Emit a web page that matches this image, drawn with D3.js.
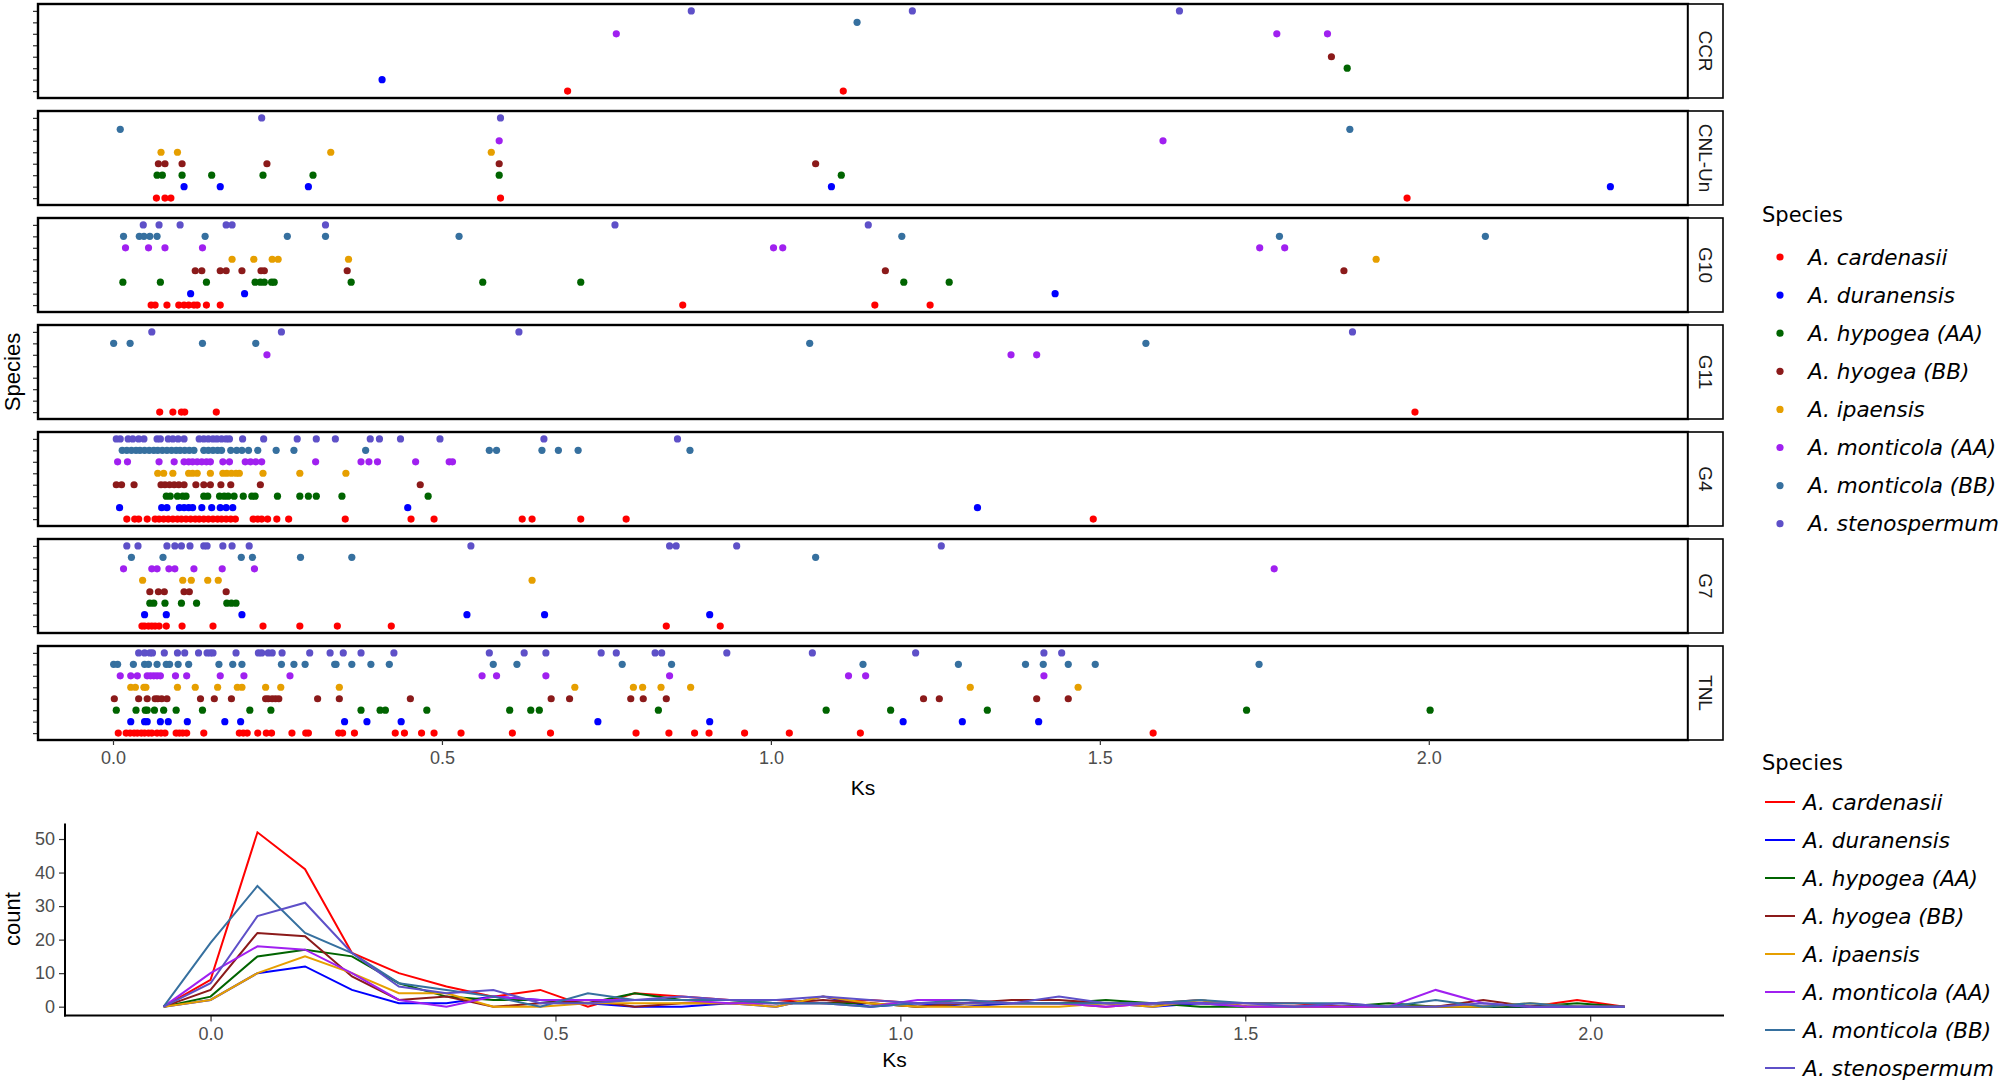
<!DOCTYPE html>
<html><head><meta charset="utf-8">
<script src="https://cdn.jsdelivr.net/npm/d3@7"></script>
<style>body{margin:0;background:#fff}svg{display:block}</style>
</head><body>
<svg id="c" width="2006" height="1082"></svg>
<script>
// ---------- DATA ----------
const speciesKeys = ["card","dur","hypAA","hyoBB","ipa","monAA","monBB","sten"];
const speciesNames = ["A. cardenasii","A. duranensis","A. hypogea (AA)","A. hyogea (BB)","A. ipaensis","A. monticola (AA)","A. monticola (BB)","A. stenospermum"];
const speciesColors = ["#ff0000","#0000ff","#006400","#8b1a1a","#e69f00","#a020f0","#36709f","#5e50c8"];
const panelNames = ["CCR","CNL-Un","G10","G11","G4","G7","TNL"];
const xTicks = [0, 0.5, 1.0, 1.5, 2.0];
const countTicks = [0, 10, 20, 30, 40, 50];

const ccr = {card:[0.691,1.110], dur:[0.409], hypAA:[1.876], hyoBB:[1.852], ipa:[],
  monAA:[0.765,1.769,1.846], monBB:[1.131], sten:[0.879,1.215,1.621]};
const cnlUn = {card:[0.066,0.079,0.088,0.589,1.967], dur:[0.108,0.163,0.297,1.092,2.276],
  hypAA:[0.067,0.075,0.105,0.150,0.228,0.304,0.587,1.107], hyoBB:[0.069,0.079,0.105,0.234,0.587,1.068],
  ipa:[0.073,0.098,0.331,0.575], monAA:[0.587,1.596], monBB:[0.011,1.880], sten:[0.226,0.589]};
const g10 = {card:[0.058,0.064,0.082,0.100,0.108,0.115,0.123,0.128,0.142,0.163,0.866,1.158,1.242],
  dur:[0.118,0.200,1.432],
  hypAA:[0.015,0.072,0.142,0.216,0.224,0.230,0.241,0.245,0.362,0.562,0.711,1.202,1.271],
  hyoBB:[0.125,0.135,0.163,0.172,0.196,0.225,0.230,0.356,1.174,1.871],
  ipa:[0.181,0.214,0.242,0.251,0.358,1.920],
  monAA:[0.019,0.054,0.079,0.136,1.004,1.018,1.743,1.781],
  monBB:[0.016,0.040,0.047,0.056,0.067,0.140,0.265,0.323,0.526,1.199,1.773,2.086],
  sten:[0.046,0.070,0.102,0.172,0.181,0.323,0.763,1.148]};
const g11 = {card:[0.071,0.091,0.104,0.109,0.157,1.979], dur:[], hypAA:[], hyoBB:[], ipa:[],
  monAA:[0.234,1.365,1.404], monBB:[0.001,0.026,0.136,0.217,1.059,1.570], sten:[0.059,0.256,0.617,1.884]};
const g4 = {
  card:[0.021,0.033,0.039,0.052,0.064,0.070,0.077,0.084,0.091,0.098,0.104,0.111,0.118,0.125,0.131,0.138,0.145,0.152,0.159,0.165,0.172,0.179,0.186,0.213,0.220,0.226,0.235,0.249,0.267,0.353,0.453,0.488,0.622,0.637,0.711,0.780,1.490],
  dur:[0.010,0.074,0.082,0.101,0.108,0.115,0.121,0.135,0.150,0.163,0.172,0.182,0.448,1.314],
  hypAA:[0.081,0.087,0.098,0.106,0.111,0.138,0.144,0.162,0.169,0.175,0.184,0.198,0.211,0.216,0.250,0.284,0.297,0.309,0.348,0.479],
  hyoBB:[0.005,0.013,0.032,0.073,0.079,0.086,0.093,0.100,0.108,0.126,0.138,0.148,0.164,0.179,0.224,0.467],
  ipa:[0.068,0.077,0.091,0.115,0.121,0.128,0.148,0.167,0.173,0.180,0.187,0.192,0.228,0.284,0.354],
  monAA:[0.007,0.022,0.070,0.093,0.108,0.115,0.121,0.128,0.135,0.142,0.148,0.167,0.177,0.201,0.209,0.217,0.226,0.308,0.377,0.389,0.402,0.460,0.511,0.516],
  monBB:[0.014,0.021,0.028,0.035,0.041,0.048,0.055,0.062,0.068,0.075,0.082,0.089,0.096,0.102,0.109,0.116,0.123,0.138,0.145,0.152,0.159,0.165,0.179,0.188,0.196,0.206,0.220,0.248,0.275,0.384,0.572,0.583,0.652,0.677,0.707,0.877],
  sten:[0.005,0.011,0.023,0.030,0.039,0.047,0.067,0.072,0.084,0.091,0.099,0.108,0.131,0.138,0.145,0.152,0.158,0.165,0.172,0.177,0.197,0.229,0.280,0.309,0.338,0.391,0.405,0.437,0.497,0.655,0.858]};
const g7 = {
  card:[0.044,0.048,0.054,0.059,0.064,0.070,0.081,0.105,0.152,0.228,0.284,0.341,0.423,0.841,0.923],
  dur:[0.048,0.081,0.196,0.538,0.656,0.907],
  hypAA:[0.056,0.062,0.079,0.104,0.127,0.173,0.180,0.187],
  hyoBB:[0.056,0.069,0.078,0.108,0.116,0.172],
  ipa:[0.045,0.106,0.119,0.144,0.160,0.637],
  monAA:[0.016,0.059,0.067,0.085,0.094,0.123,0.166,0.215,1.765],
  monBB:[0.028,0.076,0.195,0.212,0.285,0.363,1.068],
  sten:[0.021,0.038,0.082,0.094,0.104,0.117,0.138,0.143,0.167,0.181,0.207,0.544,0.846,0.856,0.948,1.259]};
const tnl = {
  card:[0.008,0.020,0.026,0.032,0.037,0.043,0.048,0.054,0.059,0.067,0.073,0.079,0.096,0.101,0.106,0.112,0.138,0.192,0.198,0.204,0.220,0.233,0.241,0.272,0.293,0.297,0.343,0.349,0.367,0.429,0.443,0.469,0.488,0.529,0.607,0.665,0.795,0.845,0.884,0.906,0.960,1.028,1.136,1.581],
  dur:[0.027,0.048,0.052,0.072,0.084,0.113,0.170,0.194,0.352,0.386,0.438,0.737,0.907,1.201,1.291,1.407],
  hypAA:[0.005,0.035,0.049,0.052,0.063,0.077,0.096,0.136,0.208,0.240,0.377,0.406,0.414,0.477,0.603,0.635,0.648,0.829,1.084,1.182,1.329,1.723,2.002],
  hyoBB:[0.002,0.039,0.052,0.064,0.068,0.074,0.082,0.133,0.154,0.180,0.232,0.236,0.242,0.247,0.252,0.311,0.344,0.452,0.666,0.694,0.787,0.806,0.841,1.232,1.256,1.404,1.452],
  ipa:[0.027,0.034,0.047,0.050,0.098,0.125,0.159,0.189,0.196,0.232,0.255,0.344,0.702,0.791,0.805,0.833,0.878,1.303,1.467],
  monAA:[0.011,0.027,0.037,0.052,0.057,0.062,0.067,0.072,0.095,0.112,0.163,0.199,0.269,0.561,0.583,0.658,0.846,1.118,1.144,1.415],
  monBB:[0.001,0.007,0.031,0.048,0.054,0.067,0.081,0.086,0.099,0.115,0.161,0.182,0.196,0.256,0.275,0.292,0.337,0.339,0.363,0.392,0.420,0.578,0.614,0.774,0.849,1.140,1.285,1.387,1.414,1.452,1.493,1.742],
  sten:[0.039,0.048,0.056,0.060,0.078,0.098,0.109,0.130,0.143,0.148,0.152,0.187,0.221,0.226,0.236,0.242,0.257,0.299,0.330,0.350,0.377,0.427,0.572,0.625,0.658,0.742,0.765,0.824,0.834,0.933,1.063,1.220,1.415,1.442]};
const panelData = [ccr, cnlUn, g10, g11, g4, g7, tnl];

// frequency polygon (bottom)
const ksBins = [-0.068,0.000,0.068,0.137,0.205,0.273,0.342,0.410,0.478,0.547,0.615,0.683,0.752,0.820,0.888,0.956,1.025,1.093,1.161,1.230,1.298,1.366,1.435,1.503,1.571,1.640,1.708,1.776,1.845,1.913,1.981,2.050];
const countCard  = [0,8,52,41,16,10,6,3,5,0,4,3,2,2,1,2,1,1,1,1,0,1,1,1,1,0,0,0,0,0,2,0];
const countDur   = [0,2,10,12,5,1,1,3,2,1,0,0,1,0,3,0,1,0,1,1,1,0,1,0,0,0,0,0,0,0,0,0];
const countHypAA = [0,3,15,17,15,7,3,2,2,1,4,2,2,1,1,1,0,1,1,1,2,1,0,0,0,0,1,0,0,0,1,0];
const countHyoBB = [0,5,22,21,9,2,3,0,1,2,0,1,1,1,2,1,0,1,2,2,1,1,2,0,0,0,0,0,2,0,0,0];
const countIpa   = [0,2,10,15,10,4,4,0,0,1,1,1,1,0,3,1,0,0,0,0,1,0,2,0,0,0,0,0,0,1,0,0];
const countMonAA = [0,10,18,17,10,2,0,3,2,2,2,2,1,1,1,0,2,2,1,1,0,1,1,0,0,0,0,5,1,0,0,0];
const countMonBB = [0,19,36,22,16,7,5,3,0,4,2,2,2,1,1,0,1,2,1,1,1,1,2,1,1,1,0,2,0,1,0,0];
const countSten  = [0,7,27,31,16,6,4,5,1,1,2,3,2,2,3,2,1,1,1,3,1,1,1,1,0,1,0,0,1,0,0,0];
const countSeries = [countCard,countDur,countHypAA,countHyoBB,countIpa,countMonAA,countMonBB,countSten];

// ---------- DRAW ----------
const svg = d3.select("#c");
svg.append("rect").attr("width",2006).attr("height",1082).attr("fill","#fff");
const tickFont = "'Liberation Sans', Arial, sans-serif";
const legFont = "'DejaVu Sans', Verdana, sans-serif";

const pL = 38, pR = 1688, stripW = 35, pTop0 = 4, pStep = 107, pH = 94;
const x = d3.scaleLinear().domain([-0.114, 2.394]).range([pL, pR]);

panelNames.forEach((name, i) => {
  const top = pTop0 + i * pStep, bot = top + pH;
  const y = d3.scalePoint().domain(speciesKeys).range([bot, top]).padding(0.6);
  const g = svg.append("g");
  g.append("g").attr("transform", `translate(${pL},0)`)
    .call(d3.axisLeft(y).tickSize(5).tickFormat(""))
    .call(a => { a.select(".domain").remove(); a.selectAll("line").attr("stroke","#333").attr("stroke-width",1.2); });
  const data = panelData[i];
  speciesKeys.forEach((k, si) => {
    g.selectAll(null).data(data[k]).enter().append("circle")
      .attr("cx", d => x(d)).attr("cy", y(k)).attr("r", 3.6)
      .attr("fill", speciesColors[si]);
  });
  g.append("rect").attr("x", pL).attr("y", top).attr("width", pR - pL).attr("height", pH)
    .attr("fill", "none").attr("stroke", "#000").attr("stroke-width", 2.4);
  g.append("rect").attr("x", pR).attr("y", top).attr("width", stripW).attr("height", pH)
    .attr("fill", "#fff").attr("stroke", "#000").attr("stroke-width", 1.6);
  g.append("text").attr("transform", `translate(${pR + stripW/2},${top + pH/2}) rotate(90)`)
    .attr("text-anchor","middle").attr("dominant-baseline","central")
    .attr("font-family", tickFont).attr("font-size", 19).attr("fill","#1a1a1a").text(name);
});
const lastBot = pTop0 + 6 * pStep + pH;
svg.append("g").attr("transform", `translate(0,${lastBot})`)
  .call(d3.axisBottom(x).tickValues(xTicks).tickSize(5).tickPadding(6).tickFormat(d3.format(".1f")))
  .call(a => { a.select(".domain").remove(); a.selectAll("line").attr("stroke","#333").attr("stroke-width",1.2);
    a.selectAll("text").attr("font-family", tickFont).attr("font-size", 18).attr("fill","#4d4d4d"); });
svg.append("text").attr("x", (pL+pR)/2).attr("y", 795).attr("text-anchor","middle")
  .attr("font-family", tickFont).attr("font-size", 21).attr("fill","#000").text("Ks");
svg.append("text").attr("transform", `translate(20,${(pTop0+lastBot)/2}) rotate(-90)`)
  .attr("text-anchor","middle").attr("font-family", tickFont).attr("font-size", 22).attr("fill","#000").text("Species");

svg.append("text").attr("x",1762).attr("y",222).attr("font-family", legFont).attr("font-size",21).text("Species");
speciesNames.forEach((nm, i) => {
  const cy = 257 + i * 38.1;
  svg.append("circle").attr("cx",1780).attr("cy",cy).attr("r",3.6).attr("fill",speciesColors[i]);
  svg.append("text").attr("x",1808).attr("y",cy).attr("dominant-baseline","central")
    .attr("font-family", legFont).attr("font-style","italic").attr("font-size",21.5).attr("fill","#000").text(nm);
});

const bx = d3.scaleLinear().domain([-0.211, 2.194]).range([65, 1724]);
const by = d3.scaleLinear().domain([-2.6, 54.6]).range([1015.4, 823.6]);
svg.append("g").attr("transform","translate(65,0)")
  .call(d3.axisLeft(by).tickValues(countTicks).tickSize(6).tickPadding(4))
  .call(a => { a.select(".domain").remove(); a.selectAll("line").attr("stroke","#333").attr("stroke-width",1.2);
    a.selectAll("text").attr("font-family", tickFont).attr("font-size", 18).attr("fill","#4d4d4d"); });
svg.append("g").attr("transform","translate(0,1015.4)")
  .call(d3.axisBottom(bx).tickValues(xTicks).tickSize(6).tickPadding(6).tickFormat(d3.format(".1f")))
  .call(a => { a.select(".domain").remove(); a.selectAll("line").attr("stroke","#333").attr("stroke-width",1.2);
    a.selectAll("text").attr("font-family", tickFont).attr("font-size", 18).attr("fill","#4d4d4d"); });
svg.append("line").attr("x1",65).attr("x2",65).attr("y1",823.6).attr("y2",1016.5).attr("stroke","#000").attr("stroke-width",2);
svg.append("line").attr("x1",64).attr("x2",1724).attr("y1",1015.4).attr("y2",1015.4).attr("stroke","#000").attr("stroke-width",2);
const line = d3.line().x((d,i) => bx(ksBins[i])).y(d => by(d));
countSeries.forEach((s, i) => {
  svg.append("path").attr("d", line(s)).attr("fill","none").attr("stroke",speciesColors[i]).attr("stroke-width",2);
});
svg.append("text").attr("x",(65+1724)/2).attr("y",1067).attr("text-anchor","middle")
  .attr("font-family", tickFont).attr("font-size", 21).text("Ks");
svg.append("text").attr("transform","translate(20,919) rotate(-90)").attr("text-anchor","middle")
  .attr("font-family", tickFont).attr("font-size", 22).text("count");

svg.append("text").attr("x",1762).attr("y",770).attr("font-family", legFont).attr("font-size",21).text("Species");
speciesNames.forEach((nm, i) => {
  const cy = 802 + i * 38;
  svg.append("line").attr("x1",1765).attr("x2",1795).attr("y1",cy).attr("y2",cy).attr("stroke",speciesColors[i]).attr("stroke-width",2);
  svg.append("text").attr("x",1803).attr("y",cy).attr("dominant-baseline","central")
    .attr("font-family", legFont).attr("font-style","italic").attr("font-size",21.5).attr("fill","#000").text(nm);
});
</script>
</body></html>
